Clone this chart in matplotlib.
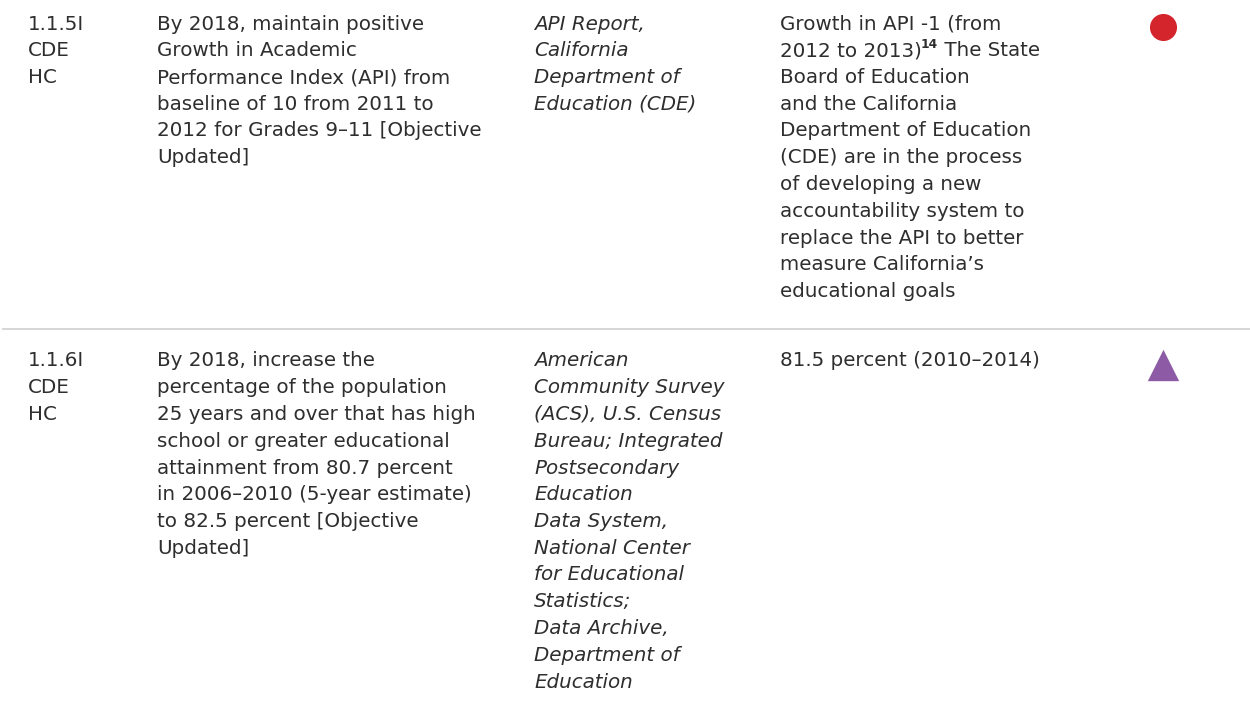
import matplotlib
matplotlib.use("Agg")
import matplotlib.pyplot as plt

# table content, one list of lines per cell
rowIds = [
    ["1.1.5I", "CDE", "HC"],
    ["1.1.6I", "CDE", "HC"],
]
objectives = [
    ["By 2018, maintain positive",
     "Growth in Academic",
     "Performance Index (API) from",
     "baseline of 10 from 2011 to",
     "2012 for Grades 9\u201311 [Objective",
     "Updated]"],
    ["By 2018, increase the",
     "percentage of the population",
     "25 years and over that has high",
     "school or greater educational",
     "attainment from 80.7 percent",
     "in 2006\u20132010 (5-year estimate)",
     "to 82.5 percent [Objective",
     "Updated]"],
]
sources = [
    ["API Report,",
     "California",
     "Department of",
     "Education (CDE)"],
    ["American",
     "Community Survey",
     "(ACS), U.S. Census",
     "Bureau; Integrated",
     "Postsecondary",
     "Education",
     "Data System,",
     "National Center",
     "for Educational",
     "Statistics;",
     "Data Archive,",
     "Department of",
     "Education"],
]
# (text before superscript, superscript, text after) per line
statusLines = [
    [("Growth in API -1 (from", "", ""),
     ("2012 to 2013)", "14", " The State"),
     ("Board of Education", "", ""),
     ("and the California", "", ""),
     ("Department of Education", "", ""),
     ("(CDE) are in the process", "", ""),
     ("of developing a new", "", ""),
     ("accountability system to", "", ""),
     ("replace the API to better", "", ""),
     ("measure California\u2019s", "", ""),
     ("educational goals", "", "")],
    [("81.5 percent (2010\u20132014)", "", "")],
]
statusMarkers = ["o", "^"]
statusColors = ["#d4242c", "#8d5ba6"]

W, H = 1250, 717
FONT = "DejaVu Sans"
SIZE = 14.3
LINE_H = 26.75
TEXT_COLOR = "#2e2e2e"
colX = [28, 157, 534, 780]
markerX = 1163
rowTop = [24, 361]
markerY = [27, 365]
markerArea = {"o": 380, "^": 510}

fig = plt.figure(figsize=(W / 100, H / 100), dpi=100)
ax = fig.add_axes([0, 0, 1, 1])
ax.set_xlim(0, W)
ax.set_ylim(H, 0)
ax.axis("off")


def drawCell(x, y0, lines, style="normal"):
    for i, line in enumerate(lines):
        ax.text(x, y0 + i * LINE_H, line, fontsize=SIZE, family=FONT,
                style=style, color=TEXT_COLOR, va="center", ha="left")


for r in range(len(rowIds)):
    y0 = rowTop[r]
    drawCell(colX[0], y0, rowIds[r])
    drawCell(colX[1], y0, objectives[r])
    drawCell(colX[2], y0, sources[r], style="italic")
    for i, (pre, sup, post) in enumerate(statusLines[r]):
        t = ax.text(colX[3], y0 + i * LINE_H, pre, fontsize=SIZE, family=FONT,
                    color=TEXT_COLOR, va="center", ha="left")
        if sup:
            s = ax.annotate(sup, xy=(1, 0.5), xycoords=t, xytext=(-1, 0),
                            textcoords="offset points", fontsize=SIZE * 0.62,
                            family=FONT, weight="bold", color=TEXT_COLOR,
                            va="bottom", ha="left")
            ax.annotate(post, xy=(1, 0), xycoords=(s, t), fontsize=SIZE,
                        family=FONT, color=TEXT_COLOR, va="bottom", ha="left")
    ax.scatter([markerX], [markerY[r]], s=markerArea[statusMarkers[r]],
               marker=statusMarkers[r], color=statusColors[r], linewidths=0)

# row divider
ax.plot([3, W], [329, 329], color="#d3d3d3", lw=1.3)

fig.savefig("out.png", dpi=100)
